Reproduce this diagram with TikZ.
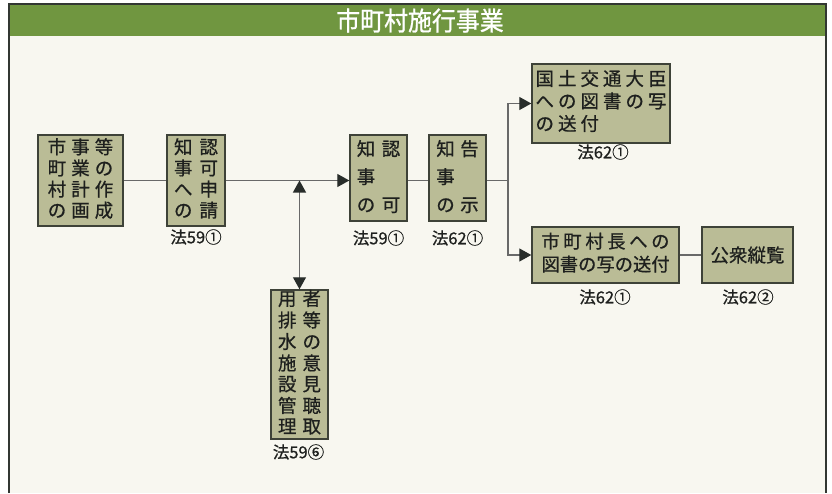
\documentclass[tikz,border=0pt]{standalone}
\usepackage{fontspec}
\setmainfont{Noto Sans CJK JP}
\newfontfamily\jpm{Noto Sans CJK JP}[FakeBold=0.7]
\newfontfamily\jph{Noto Sans CJK JP}[FakeBold=0.9,FakeStretch=0.92]
\usetikzlibrary{arrows.meta}
\definecolor{boxfill}{RGB}{186,188,150}
\definecolor{boxline}{RGB}{62,66,56}
\definecolor{linegray}{RGB}{105,105,105}
\definecolor{tipdark}{RGB}{40,45,42}
\definecolor{hdrgreen}{RGB}{112,150,64}
\definecolor{framecol}{RGB}{50,55,50}
\definecolor{bgcol}{RGB}{248,247,240}
\definecolor{txtcol}{RGB}{30,32,30}
\tikzset{
  box/.style={draw=boxline, line width=1.4pt, fill=boxfill, inner sep=0pt, text=txtcol},
  conn/.style={draw=linegray, line width=1.2pt},
  arr/.style={conn, -{Triangle[length=12pt,width=13pt,color=tipdark]}},
  darr/.style={conn, {Triangle[length=12pt,width=13pt,color=tipdark]}-{Triangle[length=12pt,width=13pt,color=tipdark]}},
  lbl/.style={inner sep=0pt, text=txtcol, font=\jpm\fontsize{16.5}{16.5}\selectfont},
  hdrtext/.style={inner sep=0pt, text=white, font=\jph\fontsize{26}{26}\selectfont}
}
\begin{document}
\begin{tikzpicture}[x=1pt,y=-1pt]
\useasboundingbox (0,0) rectangle (832,493);
\fill[white] (0,0) rectangle (832,493);
\fill[bgcol] (9,4) rectangle (826,493);
\fill[hdrgreen] (9,4) rectangle (826,36);
\draw[framecol, line width=2pt] (9,493) -- (9,4) -- (826,4) -- (826,493);
\node[hdrtext] (title) at (420,20.5) {市町村施行事業};

% boxes
\node[box, minimum width=85pt, minimum height=91pt, font=\jpm\fontsize{18.5}{18.6}\selectfont] (b1) at (80.5,180.5)
 {\begin{tabular}{@{}c@{\hspace{5pt}}c@{\hspace{5pt}}c@{}}市&事&等\\町&業&の\\村&計&作\\の&画&成\end{tabular}};
\node[box, minimum width=58pt, minimum height=91pt, font=\jpm\fontsize{18.5}{18.6}\selectfont] (b2) at (196,180.5)
 {\begin{tabular}{@{}c@{\hspace{7pt}}c@{}}知&認\\事&可\\へ&申\\の&請\end{tabular}};
\node[box, minimum width=57pt, minimum height=86pt, font=\jpm\fontsize{18.5}{28}\selectfont] (b3) at (378.5,178)
 {\begin{tabular}{@{}c@{\hspace{6.5pt}}c@{}}知&認\\事&\\の&可\end{tabular}};
\node[box, minimum width=57pt, minimum height=86pt, font=\jpm\fontsize{18.5}{28}\selectfont] (b4) at (457.5,178)
 {\begin{tabular}{@{}c@{\hspace{5.5pt}}c@{}}知&告\\事&\\の&示\end{tabular}};
\node[box, minimum width=138pt, minimum height=79pt, font=\jpm\fontsize{18.5}{22.5}\selectfont] (b5) at (601,103.5)
 {\begin{tabular}{@{}l@{}}\hbox to 131pt{国\hfil 土\hfil 交\hfil 通\hfil 大\hfil 臣}\\\hbox to 131pt{へ\hfil の\hfil 図\hfil 書\hfil の\hfil 写}\\\hbox to 131pt{の\kern4pt 送\kern4pt 付\hfil}\end{tabular}};
\node[box, minimum width=147pt, minimum height=56pt, font=\jpm\fontsize{18.3}{23}\selectfont] (b6) at (605.5,255)
 {\begin{tabular}{@{}l@{}}\hbox to 128pt{市\hfil 町\hfil 村\hfil 長\hfil へ\hfil の}\\\hbox to 128pt{図\hfil 書\hfil の\hfil 写\hfil の\hfil 送\hfil 付}\end{tabular}};
\node[box, minimum width=91pt, minimum height=56pt, font=\jpm\fontsize{18.5}{18.5}\selectfont] (b7) at (747.5,255) {公衆縦覧};
\node[box, minimum width=57pt, minimum height=147pt, font=\jpm\fontsize{18.5}{19.8}\selectfont] (b8) at (299.5,364.5)
 {\begin{tabular}{@{}c@{\hspace{6pt}}c@{}}用&者\\排&等\\水&の\\施&意\\設&見\\管&聴\\理&取\end{tabular}};

% labels
\node[lbl] (l2) at (196,237) {法59①};
\node[lbl] (l3) at (378.5,238) {法59①};
\node[lbl] (l4) at (457.5,238) {法62①};
\node[lbl] (l5) at (603,152) {法62①};
\node[lbl] (l6) at (605,297) {法62①};
\node[lbl] (l7) at (748,297) {法62②};
\node[lbl] (l8) at (298.5,452) {法59⑥};

% connectors
\coordinate (vj) at (b8.north |- b1.east);
\coordinate (br) at (508,180.5);
\draw[conn] (b1.east) -- (b2.west);
\draw[arr] (b2.east) -- (b3.west |- b2.east);
\draw[darr] (vj) -- (b8.north);
\draw[conn] (b3.east |- br) -- (b4.west |- br);
\draw[conn] (b4.east |- br) -- (br);
\draw[arr] (br) |- (b5.west);
\draw[arr] (br) |- (b6.west);
\draw[conn] (b6.east) -- (b7.west);
\end{tikzpicture}
\end{document}
